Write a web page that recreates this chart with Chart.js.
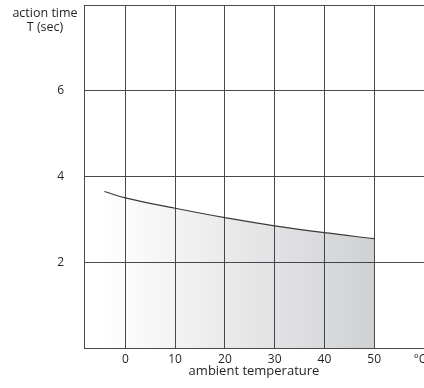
<!DOCTYPE html>
<html>
<head>
<meta charset="utf-8">
<script src="https://cdn.jsdelivr.net/npm/chart.js@4"></script>
<style>
  html, body { margin: 0; padding: 0; background: #fff; }
  #wrap { width: 424px; height: 388px; }
</style>
</head>
<body>
<div id="wrap"><canvas id="myChart"></canvas></div>
<script>
const temps = [-4.2, 0, 10, 20, 30, 40, 50];
const actionTime = [3.65, 3.5, 3.26, 3.04, 2.85, 2.69, 2.55];
const xTicks = [0, 10, 20, 30, 40, 50];
const unitAt = 59.2;
const yTicks = [2, 4, 6];
const yTitle = ['action time', 'T (sec)'];
const xTitle = 'ambient temperature';
const xUnit = '°C';

const FONT = "'Open Sans', sans-serif";
const GRID = '#4a4a4a';

const points = temps.map((t, i) => ({ x: t, y: actionTime[i] }));

function areaFill(ctx) {
  const chart = ctx.chart;
  const area = chart.chartArea;
  if (!area) return 'rgba(0,0,0,0.1)';
  const xs = chart.scales.x;
  const x0 = xs.getPixelForValue(temps[0]);
  const x1 = xs.getPixelForValue(temps[temps.length - 1]);
  const g = chart.ctx.createLinearGradient(x0, 0, x1, 0);
  g.addColorStop(0, 'rgba(40,45,55,0)');
  g.addColorStop(1, 'rgba(40,45,55,0.22)');
  return g;
}

const yTitlePlugin = {
  id: 'yTitle',
  afterDraw(chart) {
    const c = chart.ctx;
    const a = chart.chartArea;
    c.save();
    c.font = "12.5px " + FONT;
    c.fillStyle = '#231f20';
    c.textAlign = 'center';
    c.textBaseline = 'middle';
    c.fillText(yTitle[0], a.left - 39, a.top + 8);
    c.fillText(yTitle[1], a.left - 39, a.top + 22);
    c.restore();
  }
};

const config = {
  type: 'line',
  data: {
    datasets: [{
      data: points,
      borderColor: '#3a3a3a',
      borderWidth: 1.2,
      pointRadius: 0,
      tension: 0.4,
      fill: 'origin',
      backgroundColor: areaFill
    }]
  },
  options: {
    responsive: true,
    maintainAspectRatio: false,
    animation: false,
    layout: { padding: { top: 5, left: 0, right: 0, bottom: 0 } },
    plugins: {
      legend: { display: false },
      tooltip: { enabled: false }
    },
    scales: {
      x: {
        type: 'linear',
        min: -8.3,
        max: 60,
        z: 1,
        afterBuildTicks: s => { s.ticks = xTicks.concat([unitAt]).map(v => ({ value: v })); },
        afterFit: s => { s.height = 40; s.paddingLeft = 0; s.paddingRight = 0; },
        grid: {
          color: c => c.tick && c.tick.value === unitAt ? 'rgba(0,0,0,0)' : GRID,
          lineWidth: 1,
          drawTicks: false
        },
        border: { display: true, color: GRID, width: 1 },
        ticks: {
          padding: 4,
          color: '#231f20',
          font: { family: FONT, size: 12 },
          maxRotation: 0,
          autoSkip: false,
          callback: v => v === unitAt ? xUnit : String(v)
        },
        title: {
          display: true,
          text: xTitle,
          color: '#231f20',
          font: { family: FONT, size: 13 },
          padding: { top: 0, bottom: 9 }
        }
      },
      y: {
        min: 0,
        max: 8,
        z: 1,
        afterBuildTicks: s => { s.ticks = [0].concat(yTicks, [8]).map(v => ({ value: v })); },
        afterFit: s => { s.width = 84; s.paddingTop = 0; s.paddingBottom = 0; },
        grid: { color: GRID, lineWidth: 1, drawTicks: false },
        border: { display: true, color: GRID, width: 1 },
        ticks: {
          padding: 20,
          color: '#231f20',
          font: { family: FONT, size: 12 },
          callback: v => yTicks.includes(v) ? String(v) : ''
        }
      }
    }
  },
  plugins: [yTitlePlugin]
};

var myChart = new Chart(document.getElementById('myChart'), config);
</script>
</body>
</html>
